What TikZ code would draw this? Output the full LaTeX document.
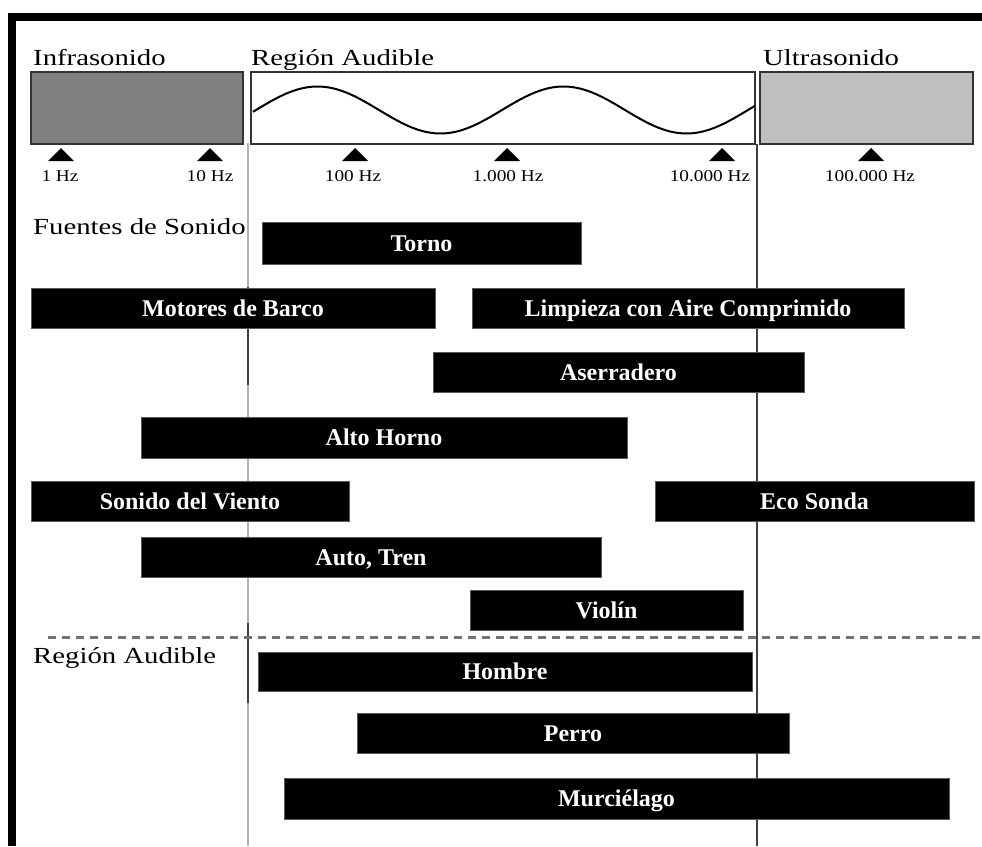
\documentclass[tikz,border=0pt]{standalone}
\usepackage{fontspec}
\setmainfont{Liberation Serif}
\newfontfamily\headfont[FakeStretch=1.25]{Liberation Serif}
\newfontfamily\tickfont[FakeStretch=1.17]{Liberation Serif}
\begin{document}
\begin{tikzpicture}[x=1pt,y=-1pt,
  band/.style={draw=black!80, line width=2pt, inner sep=0pt},
  heading/.style={anchor=base west, inner sep=0pt, font=\headfont\fontsize{23}{26}\selectfont},
  ticklabel/.style={anchor=base, inner sep=0pt, font=\tickfont\fontsize{16.5}{19}\selectfont},
  bar/.style={fill=black, draw=black!65, line width=0.8pt, text=white,
    font=\bfseries\fontsize{24}{28}\selectfont, inner sep=0pt,
    text height=16pt, text depth=0pt},
  divider/.style={black!30, line width=2pt},
  dividerdark/.style={black!75, line width=2pt},
  separator/.style={black!55, line width=3pt, dash pattern=on 8pt off 6pt}]

\useasboundingbox (0,0) rectangle (982,846);

% page frame (top and left edges)
\fill[black] (8,13) rectangle (982,20.5);
\fill[black] (8,13) rectangle (15.5,846);

% frequency bands
\node[band, fill=black!50, minimum width=212pt, minimum height=72pt] (infra) at (137,108) {};
\node[band, fill=white, minimum width=504pt, minimum height=72pt] (audible) at (503,108) {};
\node[band, fill=black!25, minimum width=213pt, minimum height=72pt] (ultra) at (866.5,108) {};

\draw[line width=2pt] plot[domain=253:755, samples=120, smooth]
  (\x, {110 - 23.5*sin(1.46341*(\x-256))});

\node[heading] (tinfra) at (33,65) {Infrasonido};
\node[heading] (taudible) at (251,65) {Región Audible};
\node[heading] (tultra) at (763,65) {Ultrasonido};

% tick marks and frequency labels
\foreach \tx in {61,210,355,507,722,871}
  \fill[black] (\tx-13,161) -- (\tx+13,161) -- (\tx,148) -- cycle;
\node[ticklabel] (f1) at (60,181) {1 Hz};
\node[ticklabel] (f10) at (210,181) {10 Hz};
\node[ticklabel] (f100) at (353,181) {100 Hz};
\node[ticklabel] (f1k) at (508,181) {1.000 Hz};
\node[ticklabel] (f10k) at (710,181) {10.000 Hz};
\node[ticklabel] (f100k) at (870,181) {100.000 Hz};

% limits of the audible range
\draw[divider] (247.5,143) -- (247.5,846);
\draw[dividerdark] (247.5,287) -- (247.5,385);
\draw[dividerdark] (247.5,623) -- (247.5,703);
\draw[dividerdark] (757,144) -- (757,846);

% sound sources
\node[heading] (tsources) at (33,234) {Fuentes de Sonido};
\foreach \n/\xa/\xb/\ya/\yb/\t in {
    torno/262/581/222/264/Torno,
    motores/31/435/288/328/Motores de Barco,
    limpieza/472/904/288/328/Limpieza con Aire Comprimido,
    aserradero/433/804/352/392/Aserradero,
    horno/141/627/417/458/Alto Horno,
    viento/31/349/481/521/Sonido del Viento,
    eco/655/974/481/521/Eco Sonda,
    auto/141/601/537/577/{Auto, Tren},
    violin/470/743/590/630/Violín}
  \node[bar, minimum width={(\xb-\xa)*1pt}, minimum height={(\yb-\ya)*1pt}]
    (\n) at ({(\xa+\xb)/2},{(\ya+\yb)/2}) {\t};

\draw[separator] (48,637) -- (982,637);

% hearing ranges
\node[heading] (thearing) at (33,663) {Región Audible};
\foreach \n/\xa/\xb/\ya/\yb/\t in {
    hombre/258/752/652/691/Hombre,
    perro/357/789/713/753/Perro,
    murcielago/284/949/778/819/Murciélago}
  \node[bar, minimum width={(\xb-\xa)*1pt}, minimum height={(\yb-\ya)*1pt}]
    (\n) at ({(\xa+\xb)/2},{(\ya+\yb)/2}) {\t};

\end{tikzpicture}
\end{document}
